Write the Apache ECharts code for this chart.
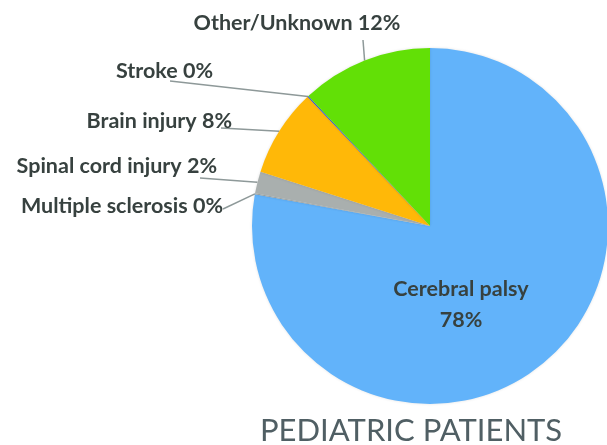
<!doctype html>
<html>
<head>
<meta charset="utf-8">
<title>Pediatric patients</title>
<script src="https://cdn.jsdelivr.net/npm/echarts@6/dist/echarts.min.js"></script>
<style>
  html, body { margin: 0; padding: 0; background: #fff; }
  #chart { width: 607px; height: 445px; }
</style>
</head>
<body>
<div id="chart"></div>
<script>
// data (clockwise from 12 o'clock)
var categories = ['Cerebral palsy', 'Multiple sclerosis', 'Spinal cord injury', 'Brain injury', 'Stroke', 'Other/Unknown'];
var values = [78, 0.1, 2, 8, 0.1, 12];
var colors = ['#62b3fa', '#9aa3a3', '#a9afae', '#ffb808', '#2a4fd8', '#62e006'];

// where each outside label sits: [text x, text y, line end x, line end y, align]
var labelSpots = [
    null,
    [223, 206, 223, 209, 'right'],
    [217, 166, 200, 178, 'right'],
    [232, 121, 221, 128, 'right'],
    [213, 71, 170, 81, 'right'],
    [297, 23, 363, 40, 'center']
];

var pieData = categories.map(function (name, i) {
    var item = { name: name, value: values[i], itemStyle: { color: colors[i] } };
    if (i === 0) {
        item.label = { position: 'inside', formatter: '{b}\n{d}%', lineHeight: 31, offset: [-28, 8] };
    }
    return item;
});

var chart = echarts.init(document.getElementById('chart'));
chart.setOption({
    animation: false,
    textStyle: { fontFamily: 'Lato' },
    title: {
        text: 'PEDIATRIC PATIENTS',
        left: 255, top: 410,
        textStyle: { fontFamily: 'Lato', fontSize: 31, fontWeight: 'normal', color: '#505f64' }
    },
    series: [{
        type: 'pie',
        center: [430, 226],
        radius: 178,
        startAngle: 90,
        clockwise: true,
        percentPrecision: 0,
        avoidLabelOverlap: false,
        itemStyle: { borderWidth: 0, shadowBlur: 3, shadowColor: 'rgba(0,0,0,0.12)' },
        label: {
            formatter: '{b} {d}%',
            fontSize: 21.5,
            fontWeight: 'bold',
            color: '#37413f'
        },
        labelLine: {
            length: 20, length2: 30,
            lineStyle: { color: '#8e9999', width: 1.5 }
        },
        labelLayout: function (params) {
            var s = labelSpots[params.dataIndex];
            if (!s) return {};
            var p0 = params.labelLinePoints ? params.labelLinePoints[0] : [s[2], s[3]];
            return {
                x: s[0], y: s[1],
                align: s[4], verticalAlign: 'middle',
                labelLinePoints: [p0, [s[2], s[3]], [s[2], s[3]]]
            };
        },
        data: pieData
    }]
});
</script>
</body>
</html>
